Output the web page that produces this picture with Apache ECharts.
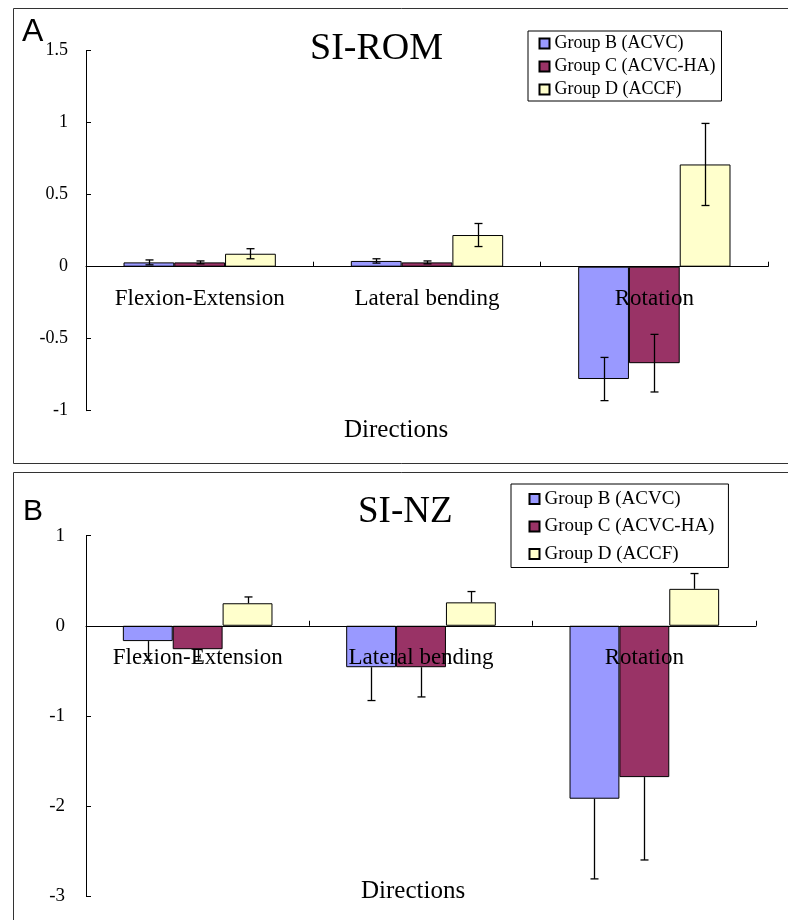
<!DOCTYPE html>
<html>
<head>
<meta charset="utf-8">
<script src="https://cdn.jsdelivr.net/npm/echarts@6/dist/echarts.min.js"></script>
<style>html,body{margin:0;padding:0;background:#fff;}#c{width:788px;height:920px;}</style>
</head>
<body>
<div id="c"></div>
<script>
var categories = ['Flexion-Extension', 'Lateral bending', 'Rotation'];
var groupNames = ['Group B (ACVC)', 'Group C (ACVC-HA)', 'Group D (ACCF)'];
var groupColors = ['#9999FF', '#993366', '#FFFFCC'];

// Panel A: SI-ROM (mean and SD)
var romB = [0.03, 0.04, -0.78];
var romBErr = [0.017, 0.015, 0.15];
var romC = [0.03, 0.03, -0.67];
var romCErr = [0.01, 0.01, 0.2];
var romD = [0.09, 0.22, 0.71];
var romDErr = [0.035, 0.08, 0.285];

// Panel B: SI-NZ (mean and SD)
var nzB = [-0.17, -0.46, -1.92];
var nzBErr = [0.21, 0.37, 0.89];
var nzC = [-0.26, -0.46, -1.68];
var nzCErr = [0.13, 0.33, 0.92];
var nzD = [0.25, 0.26, 0.41];
var nzDErr = [0.07, 0.12, 0.17];

var romTicks = ['-1', '-0.5', '0', '0.5', '1', '1.5'];
var nzTicks = ['-3', '-2', '-1', '0', '1'];

var serif = "'Liberation Serif', 'Times New Roman', serif";
var CAT_GAP = 0.33;

var GRID_A = { top: 50.7, height: 360, min: -1, max: 1.5 };
var GRID_B = { top: 535.7, height: 360.3, min: -3, max: 1 };

function barSeries(idx, gi, vals) {
  return {
    type: 'bar', name: groupNames[gi], xAxisIndex: idx, yAxisIndex: idx,
    data: vals, barGap: '0%', barCategoryGap: (CAT_GAP * 100) + '%',
    itemStyle: { color: groupColors[gi], borderColor: '#000', borderWidth: 1 },
    emphasis: { disabled: true }, z: 2
  };
}

function errSeries(idx, gi, vals, errs, oneSided) {
  return {
    type: 'custom', xAxisIndex: idx, yAxisIndex: idx, z: 6,
    data: vals.map(function (v, k) { return [k, v, errs[k]]; }),
    renderItem: function (params, api) {
      var k = api.value(0), v = api.value(1), e = api.value(2);
      var band = api.size([1, 0])[0];
      var bw = band * (1 - CAT_GAP) / 3;
      var c = api.coord([k, v]);
      var x = Math.round(c[0] + (gi - 1) * bw) + 0.5;
      var lowV, highV;
      if (oneSided) {
        if (v < 0) { lowV = v - e; highV = v; } else { lowV = v; highV = v + e; }
      } else { lowV = v - e; highV = v + e; }
      var yHi = api.coord([k, highV])[1];
      var yLo = api.coord([k, lowV])[1];
      var cap = 4;
      var st = { stroke: '#000', lineWidth: 1.3 };
      var children = [{ type: 'line', shape: { x1: x, y1: yHi, x2: x, y2: yLo }, style: st }];
      if (!oneSided || v >= 0) children.push({ type: 'line', shape: { x1: x - cap, y1: yHi, x2: x + cap, y2: yHi }, style: st });
      if (!oneSided || v < 0) children.push({ type: 'line', shape: { x1: x - cap, y1: yLo, x2: x + cap, y2: yLo }, style: st });
      return { type: 'group', children: children };
    }
  };
}

function xAxisCfg(idx, g) {
  // place the whole axis (line, ticks, labels) at value 0 of the value axis
  var zeroOffset = -g.height * (0 - g.min) / (g.max - g.min);
  return {
    type: 'category', gridIndex: idx, data: categories, z: 10,
    position: 'bottom', offset: zeroOffset,
    axisLine: { onZero: false, lineStyle: { color: '#000', width: 1 } },
    axisTick: { show: true, inside: true, length: 5, lineStyle: { color: '#000' } },
    axisLabel: { color: '#000', fontFamily: serif, fontSize: 23, margin: 21, interval: 0 },
    splitLine: { show: false }
  };
}

function yAxisCfg(idx, g, interval, ticks, fs, margin) {
  return {
    type: 'value', gridIndex: idx, min: g.min, max: g.max, interval: interval,
    axisLine: { show: true, onZero: false, lineStyle: { color: '#000', width: 1 } },
    axisTick: { show: true, inside: true, length: 5, lineStyle: { color: '#000' } },
    axisLabel: {
      color: '#000', fontFamily: serif, fontSize: fs, margin: margin,
      formatter: function (val) {
        for (var i = 0; i < ticks.length; i++) { if (Math.abs(parseFloat(ticks[i]) - val) < 1e-9) return ticks[i]; }
        return '';
      }
    },
    splitLine: { show: false }
  };
}

function legendCfg(left, top, fs, pad, gap) {
  return {
    data: groupNames, orient: 'vertical', left: left, top: top,
    icon: 'rect', itemWidth: 10, itemHeight: 10, itemGap: gap,
    padding: pad, borderColor: '#000', borderWidth: 1, backgroundColor: '#fff',
    textStyle: { color: '#000', fontFamily: serif, fontSize: fs },
    selectedMode: false
  };
}

var chart = echarts.init(document.getElementById('c'), null, { renderer: 'canvas' });
chart.setOption({
  animation: false,
  backgroundColor: '#fff',
  graphic: [
    { type: 'rect', shape: { x: 13.5, y: 8.5, width: 800, height: 455 }, style: { fill: 'none', stroke: '#333', lineWidth: 1 }, z: -1 },
    { type: 'rect', shape: { x: 13.5, y: 472.5, width: 800, height: 460 }, style: { fill: 'none', stroke: '#333', lineWidth: 1 }, z: -1 }
  ],
  title: [
    { text: 'A', left: 22, top: 16, textStyle: { fontFamily: "'Liberation Sans', Arial, sans-serif", fontSize: 32, fontWeight: 'normal', color: '#000' }, padding: 0 },
    { text: 'SI-ROM', left: 310, top: 30, textStyle: { fontFamily: serif, fontSize: 38, fontWeight: 'normal', color: '#000' }, padding: 0 },
    { text: 'Directions', left: 344, top: 418, textStyle: { fontFamily: serif, fontSize: 25, fontWeight: 'normal', color: '#000' }, padding: 0 },
    { text: 'B', left: 23, top: 497, textStyle: { fontFamily: "'Liberation Sans', Arial, sans-serif", fontSize: 30, fontWeight: 'normal', color: '#000' }, padding: 0 },
    { text: 'SI-NZ', left: 358, top: 494, textStyle: { fontFamily: serif, fontSize: 37, fontWeight: 'normal', color: '#000' }, padding: 0 },
    { text: 'Directions', left: 361, top: 879, textStyle: { fontFamily: serif, fontSize: 25, fontWeight: 'normal', color: '#000' }, padding: 0 }
  ],
  legend: [
    legendCfg(528, 31, 18, [3.5, 6, 2.5, 10.5], 5),
    legendCfg(511, 484, 19, [5.5, 14, 4, 17.5], 8.5)
  ],
  grid: [
    { left: 86, right: 20, top: GRID_A.top, height: GRID_A.height, containLabel: false },
    { left: 86, right: 32, top: GRID_B.top, height: GRID_B.height, containLabel: false }
  ],
  xAxis: [xAxisCfg(0, GRID_A), xAxisCfg(1, GRID_B)],
  yAxis: [yAxisCfg(0, GRID_A, 0.5, romTicks, 18, 18), yAxisCfg(1, GRID_B, 1, nzTicks, 19, 21)],
  series: [
    barSeries(0, 0, romB), barSeries(0, 1, romC), barSeries(0, 2, romD),
    errSeries(0, 0, romB, romBErr, false), errSeries(0, 1, romC, romCErr, false), errSeries(0, 2, romD, romDErr, false),
    barSeries(1, 0, nzB), barSeries(1, 1, nzC), barSeries(1, 2, nzD),
    errSeries(1, 0, nzB, nzBErr, true), errSeries(1, 1, nzC, nzCErr, true), errSeries(1, 2, nzD, nzDErr, true)
  ]
});
</script>
</body>
</html>
